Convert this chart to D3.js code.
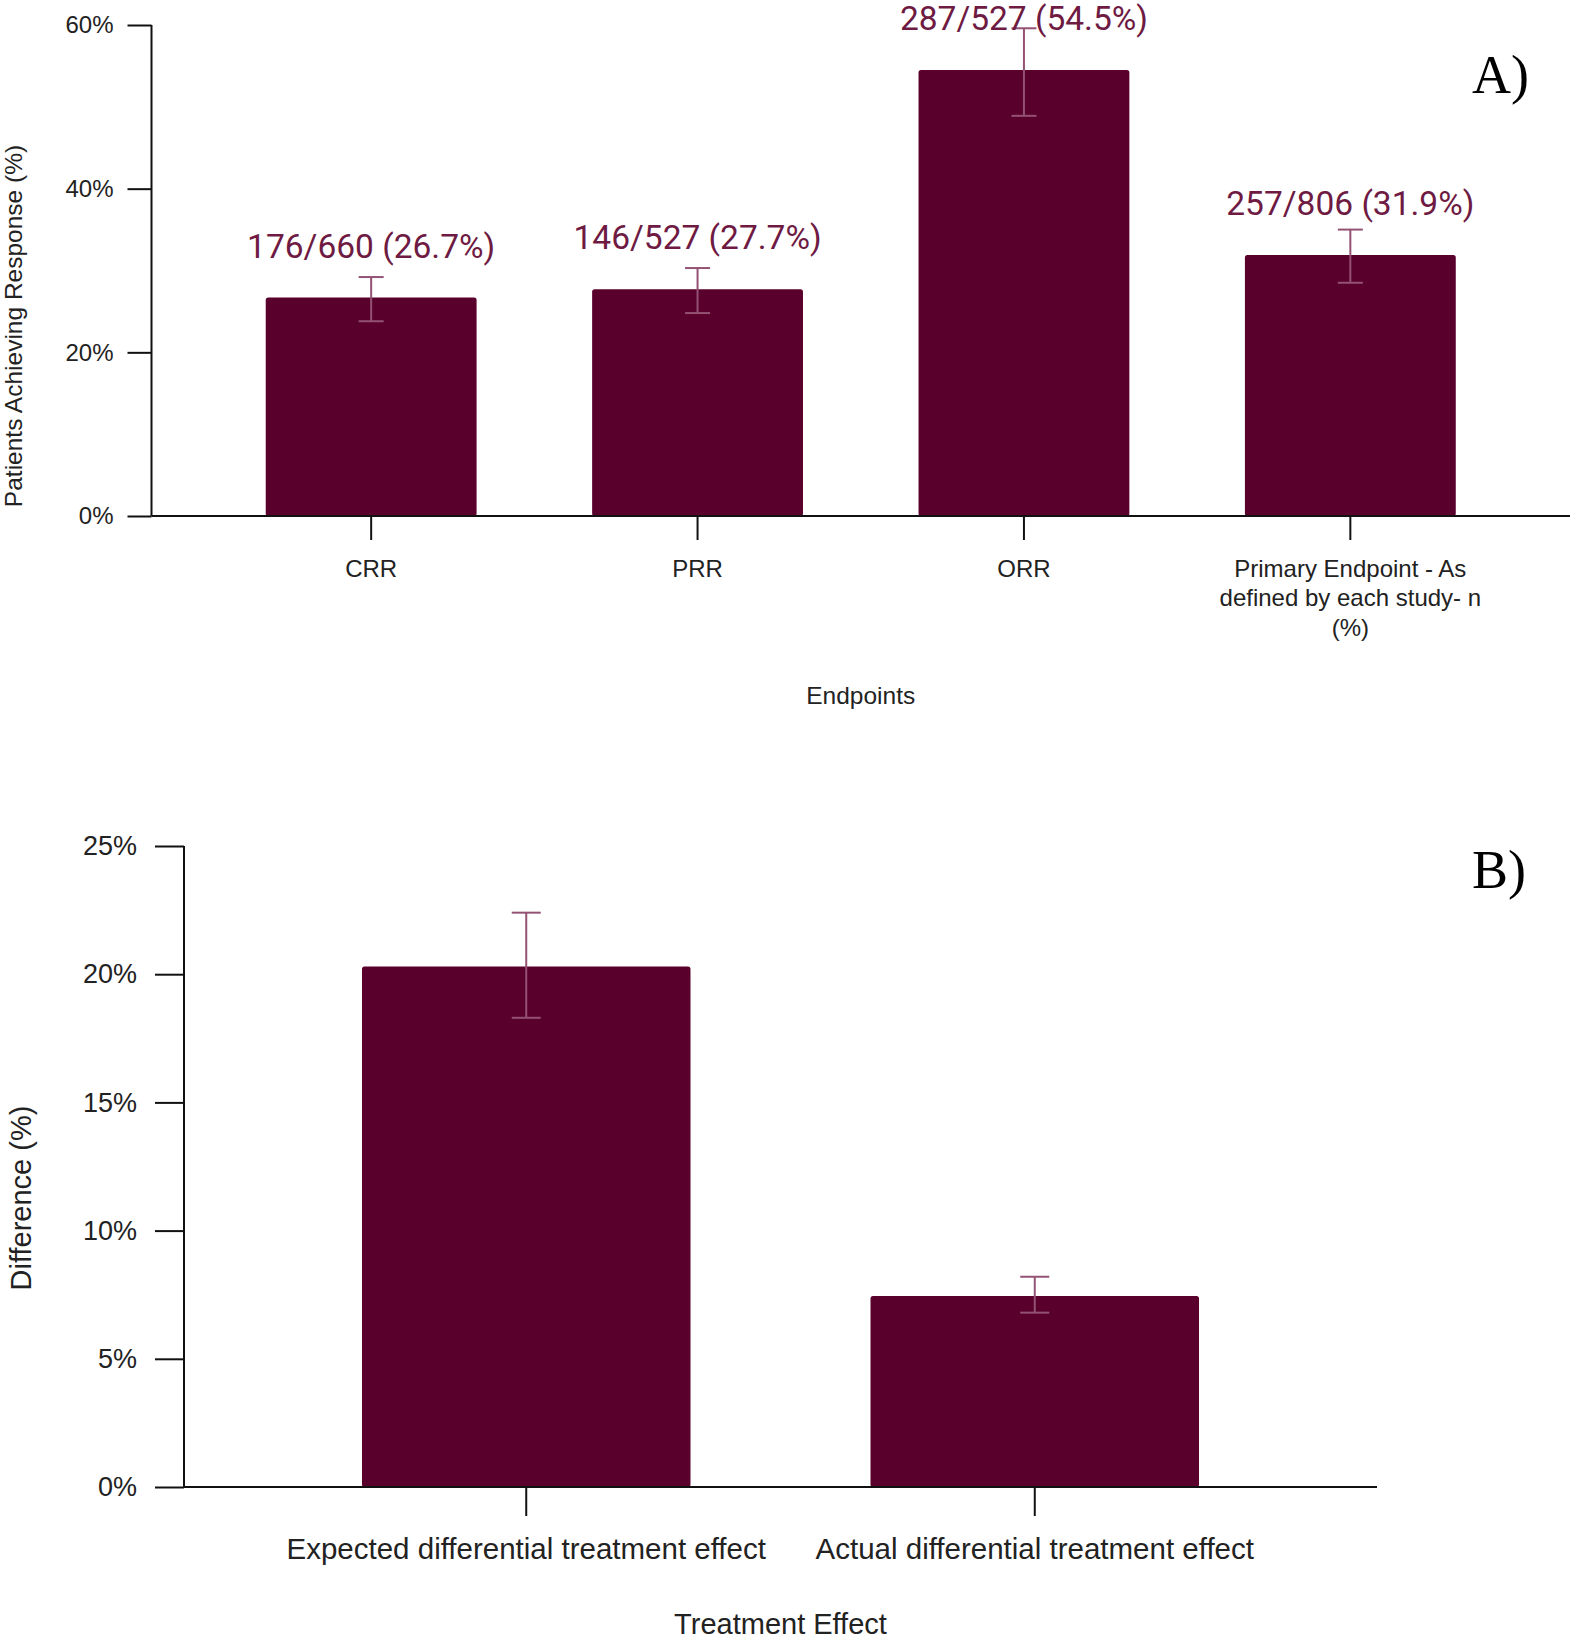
<!DOCTYPE html>
<html>
<head>
<meta charset="utf-8">
<script src="https://cdn.jsdelivr.net/npm/d3@7"></script>
<style>
  body { margin: 0; background: #fff; }
  svg { display: block; }
</style>
</head>
<body>
<div id="chart"></div>
<script>
// panel A data
const endpoints = ["CRR", "PRR", "ORR", "Primary Endpoint - As defined by each study- n (%)"]
const endpointLines = [["CRR"], ["PRR"], ["ORR"], ["Primary Endpoint - As", "defined by each study- n", "(%)"]]
const responseRate = [26.7, 27.7, 54.5, 31.9]
const responseLow = [23.8, 24.8, 48.9, 28.5]
const responseHigh = [29.2, 30.3, 59.6, 35.0]
const responseLabels = ["176/660 (26.7%)", "146/527 (27.7%)", "287/527 (54.5%)", "257/806 (31.9%)"]
const ticksA = [0, 20, 40, 60]

// panel B data
const effects = ["Expected differential treatment effect", "Actual differential treatment effect"]
const effectDiff = [20.3, 7.45]
const effectLow = [18.3, 6.8]
const effectHigh = [22.4, 8.2]
const ticksB = [0, 5, 10, 15, 20, 25]

const gc = {
  bar: "#5a002c",
  err: "#935273",
  label: "#6e1a42",
  axis: "#111",
  text: "#222",
  sans: "'Liberation Sans', Arial, sans-serif"
}

const svg = d3.select("#chart").append("svg")
  .attr("width", 1575)
  .attr("height", 1640)

function drawPanel(cfg) {
  const g = svg.append("g")
  const x = d3.scaleBand()
    .domain(cfg.cats)
    .range([cfg.left, cfg.right])
    .paddingInner(0.354)
    .paddingOuter(0.35)
  const y = d3.scaleLinear()
    .domain([0, cfg.max])
    .range([cfg.bottom, cfg.top])

  // bars
  g.selectAll("rect.bar")
    .data(cfg.values)
    .join("rect")
    .attr("class", "bar")
    .attr("x", (d, i) => x(cfg.cats[i]))
    .attr("y", d => y(d))
    .attr("width", x.bandwidth())
    .attr("height", d => cfg.bottom - y(d))
    .attr("rx", 2.5)
    .style("fill", gc.bar)

  // error bars
  const cx = i => x(cfg.cats[i]) + x.bandwidth() / 2
  cfg.values.forEach((v, i) => {
    const e = g.append("g")
      .style("stroke", gc.err)
      .style("stroke-width", 2)
    e.append("line")
      .attr("x1", cx(i)).attr("x2", cx(i))
      .attr("y1", y(cfg.low[i])).attr("y2", y(cfg.high[i]))
    ;[cfg.low[i], cfg.high[i]].forEach(b => {
      e.append("line")
        .attr("x1", cx(i) - cfg.cap).attr("x2", cx(i) + cfg.cap)
        .attr("y1", y(b)).attr("y2", y(b))
    })
  })

  // y axis
  const ya = g.append("g")
    .attr("transform", "translate(" + cfg.left + ",0)")
    .call(d3.axisLeft(y).tickValues(cfg.ticks).tickFormat(d => d + "%")
      .tickSize(cfg.tick).tickPadding(cfg.tickPad))
  ya.select(".domain").remove()
  ya.append("line")
    .attr("x1", 0).attr("x2", 0)
    .attr("y1", cfg.top).attr("y2", cfg.bottom)
    .style("stroke", gc.axis).style("stroke-width", 2)
  ya.selectAll(".tick line").style("stroke", gc.axis).style("stroke-width", 2)
  ya.selectAll(".tick text")
    .style("font-family", gc.sans)
    .style("font-size", cfg.tickFont + "px")
    .style("fill", gc.text)

  // x axis
  const xa = g.append("g")
    .attr("transform", "translate(0," + cfg.bottom + ")")
    .call(d3.axisBottom(x).tickSize(cfg.tick).tickFormat(""))
  xa.select(".domain").remove()
  xa.append("line")
    .attr("x1", cfg.left).attr("x2", cfg.right)
    .style("stroke", gc.axis).style("stroke-width", 2)
  xa.selectAll(".tick line").style("stroke", gc.axis).style("stroke-width", 2)

  cfg.lines.forEach((lines, i) => {
    const t = g.append("text")
      .attr("text-anchor", "middle")
      .attr("x", cx(i))
      .attr("y", cfg.bottom + cfg.catOffset)
      .style("font-family", gc.sans)
      .style("font-size", cfg.catFont + "px")
      .style("fill", gc.text)
    lines.forEach((l, j) => {
      t.append("tspan")
        .attr("x", cx(i))
        .attr("dy", j === 0 ? 0 : cfg.catFont * 1.22)
        .text(l)
    })
  })

  // axis titles
  g.append("text")
    .attr("text-anchor", "middle")
    .attr("x", (cfg.left + cfg.right) / 2)
    .attr("y", cfg.xTitleY)
    .style("font-family", gc.sans)
    .style("font-size", cfg.titleFont + "px")
    .style("fill", gc.text)
    .text(cfg.xTitle)

  g.append("text")
    .attr("text-anchor", "middle")
    .attr("transform", "translate(" + cfg.yTitleX + "," + cfg.yTitleY + ") rotate(-90)")
    .style("font-family", gc.sans)
    .style("font-size", cfg.titleFont + "px")
    .style("fill", gc.text)
    .text(cfg.yTitle)

  // value labels
  if (cfg.labels) {
    g.selectAll("text.val")
      .data(cfg.labels)
      .join("text")
      .attr("class", "val")
      .attr("text-anchor", "middle")
      .attr("x", (d, i) => cx(i))
      .attr("y", (d, i) => y(cfg.values[i]) - 40)
      .style("font-family", "Roboto, sans-serif")
      .style("font-size", "33.5px")
      .style("fill", gc.label)
      .text(d => d)
  }

  // panel letter
  g.append("text")
    .attr("x", 1472)
    .attr("y", cfg.letterY)
    .style("font-family", "'Liberation Serif', 'Times New Roman', serif")
    .style("font-size", "54px")
    .style("fill", "#000")
    .text(cfg.letter)
}

drawPanel({
  cats: endpoints, lines: endpointLines,
  values: responseRate, low: responseLow, high: responseHigh, labels: responseLabels,
  ticks: ticksA, max: 60,
  left: 151.5, right: 1570, top: 25, bottom: 516,
  tick: 24, tickPad: 14, tickFont: 24, cap: 12.5,
  catOffset: 61, catFont: 24,
  xTitle: "Endpoints", xTitleY: 704, yTitle: "Patients Achieving Response (%)",
  yTitleX: 22, yTitleY: 326, titleFont: 24.5,
  letter: "A)", letterY: 93
})

drawPanel({
  cats: effects, lines: effects.map(d => [d]),
  values: effectDiff, low: effectLow, high: effectHigh, labels: null,
  ticks: ticksB, max: 25,
  left: 184, right: 1377, top: 846, bottom: 1487,
  tick: 29, tickPad: 18, tickFont: 27, cap: 14.5,
  catOffset: 72, catFont: 29.5,
  xTitle: "Treatment Effect", xTitleY: 1634, yTitle: "Difference (%)",
  yTitleX: 31, yTitleY: 1198, titleFont: 29,
  letter: "B)", letterY: 888
})
</script>
</body>
</html>
